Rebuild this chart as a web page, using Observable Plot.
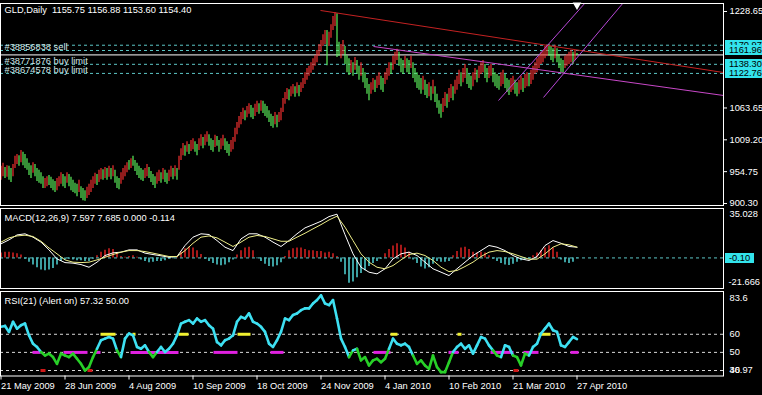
<!DOCTYPE html>
<html><head><meta charset="utf-8">
<script src="https://cdn.jsdelivr.net/npm/d3@7"></script>
<script src="https://cdn.jsdelivr.net/npm/@observablehq/plot@0.6"></script>
<style>
html,body{margin:0;padding:0;background:#000;}
#chart{position:relative;width:762px;height:395px;overflow:hidden;background:#000;font-family:"Liberation Sans",Arial,sans-serif;}
.pane{position:absolute;left:0;width:762px;}
.pane svg{display:block;}
.tag{position:absolute;height:10px;line-height:10px;font-size:9.3px;color:#000;background:#33e4ec;padding-left:4px;box-sizing:border-box;white-space:nowrap;overflow:hidden;}
</style></head><body><div id="chart"></div>
<script>
// ---------- data ----------
const symbolName = "GLD", timeframe = "Daily";
const quote = [1155.75, 1156.88, 1153.60, 1154.40]; // open high low close (last bar)
const highs = [
964,969,962,965,964,960,967,981,984,982,
991,988,984,977,969,965,970,967,960,957,
953,946,943,946,948,945,941,938,943,946,
953,950,946,953,950,945,940,935,933,940,
929,926,922,928,933,940,946,952,950,957,
960,958,962,960,964,960,965,957,946,943,
953,960,965,970,974,977,981,974,969,964,
960,957,960,967,962,955,950,946,953,957,
953,960,957,952,957,964,960,965,960,981,
994,1003,999,1006,1001,1008,1011,1006,1001,1011,
1018,1013,1018,1023,1018,1011,1008,1017,1015,1008,
1011,1017,1011,1006,1001,1008,1013,1029,1039,1049,
1056,1063,1059,1066,1071,1068,1063,1070,1075,1071,
1076,1075,1070,1066,1059,1053,1049,1056,1051,1056,
1063,1080,1090,1097,1095,1100,1104,1100,1107,1102,
1107,1114,1124,1131,1135,1141,1148,1153,1162,1172,
1179,1189,1196,1196,1193,1206,1220,1227,1225,1176,
1172,1179,1169,1153,1148,1145,1141,1150,1145,1135,
1141,1131,1124,1114,1104,1107,1114,1111,1118,1124,
1118,1114,1124,1131,1141,1141,1152,1159,1164,1159,
1148,1145,1152,1148,1145,1152,1141,1131,1124,1119,
1114,1118,1111,1104,1107,1100,1111,1100,1087,1076,
1070,1080,1090,1087,1097,1104,1100,1111,1118,1128,
1124,1131,1138,1131,1121,1118,1124,1131,1128,1135,
1141,1145,1138,1131,1135,1138,1131,1124,1121,1118,
1124,1128,1121,1114,1111,1114,1118,1111,1107,1111,
1118,1114,1121,1124,1121,1128,1135,1141,1148,1152,
1159,1162,1169,1171,1172,1169,1165,1171,1165,1155,
1148,1145,1152,1155,1159,1162,1159,1162,1156.88];
const lows = [
940,946,943,945,940,936,946,960,967,964,
970,965,960,957,948,943,952,946,938,935,
933,926,926,929,931,926,922,919,922,929,
933,929,926,935,929,922,919,917,912,919,
909,905,904,909,914,919,926,933,931,936,
941,940,943,940,945,941,946,935,926,924,
933,940,946,953,957,960,964,955,948,943,
940,938,943,946,943,936,931,926,933,938,
935,941,936,933,938,945,941,946,940,957,
974,982,981,988,984,989,992,988,982,991,
998,994,999,1005,998,991,988,996,998,988,
992,998,991,986,981,988,992,1005,1018,1029,
1035,1044,1042,1047,1053,1047,1044,1049,1056,1053,
1058,1054,1049,1046,1039,1032,1029,1035,1030,1039,
1042,1056,1070,1078,1076,1083,1087,1082,1088,1083,
1090,1097,1104,1111,1118,1123,1128,1135,1141,1152,
1159,1169,1172,1136,1169,1183,1196,1203,1150,1152,
1148,1155,1138,1124,1119,1123,1118,1128,1121,1111,
1118,1107,1097,1087,1076,1087,1094,1090,1097,1102,
1094,1090,1104,1111,1118,1121,1128,1138,1145,1135,
1124,1121,1131,1124,1121,1131,1114,1107,1097,1094,
1087,1094,1085,1080,1083,1076,1087,1073,1063,1053,
1046,1056,1066,1063,1073,1080,1076,1087,1094,1104,
1100,1107,1114,1104,1097,1094,1100,1111,1107,1114,
1121,1124,1114,1107,1114,1118,1107,1100,1097,1094,
1100,1104,1097,1090,1085,1090,1094,1087,1083,1087,
1094,1090,1097,1100,1100,1104,1111,1121,1124,1131,
1138,1141,1148,1152,1152,1145,1141,1148,1141,1131,
1124,1123,1131,1135,1138,1141,1138,1145,1153.60];
const barDirection =
"uududduuud"+"uddddduddd"+"dduudddduu"+"uddudddddu"+"ddduuuuudu"+
"ududududdd"+"uuuududddd"+"dduudddduu"+"dudduududu"+"uududuuddu"+
"uduudddudd"+"uuddduuuuu"+"uuduudduud"+"uddddddudu"+"uuuuduudud"+
"uuuuuuuuuu"+"uuuduuuudd"+"uudddududd"+"udddduuduu"+"dduuuduuud"+
"dduddudddd"+"duddududdd"+"duuduuduuu"+"duuddduudu"+"uudduudddd"+
"uuddduuddu"+"uduuduuuuu"+"uuuudddudd"+"dduuuudud";

const dateTicks = [0, 32, 64, 96, 128, 160, 192, 224, 256, 288];
const dateLabels = ["21 May 2009","28 Jun 2009","4 Aug 2009","10 Sep 2009","18 Oct 2009","24 Nov 2009","4 Jan 2010","10 Feb 2010","21 Mar 2010","27 Apr 2010"];
const priceTicks = [1228.65, 1063.65, 1009.20, 954.75, 900.30];
const priceDomain = [896.86, 1242.33];
const orderPrices = [1170.97, 1161.96, 1138.30, 1122.76];
const orderLabels = ["", "#38856838 sell", "#38771876 buy limit", "#38674578 buy limit"];
// trend lines: [bar index, price] start and end
const trendStart = [[159.75, 1230.4], [186.25, 1168.8], [248.75, 1076.4], [271.25, 1081.6]];
const trendEnd   = [[361.25, 1124.3], [361.25, 1085.0], [292.25, 1244.0], [311.25, 1244.0]];
const trendColor = ["#c42222", "#c848c8", "#b848d8", "#b848d8"];

// MACD (lines every 4 bars, histogram every 2 bars)
const macdRange = [-21.666, 35.028];
const macdLast = [7.597, 7.685, 0.000, -0.114];
const macdMain = [
10.0,12.8,16.3,17.1,14.7,11.2,5.7,-0.7,-3.3,-3.7,
-4.7,-6.6,-3.0,1.7,3.6,4.1,5.7,5.7,3.4,2.4,
1.5,0.5,1.0,8.8,14.7,17.1,16.6,12.3,7.6,5.2,
13.5,17.1,17.1,14.7,11.2,8.1,12.3,17.1,21.3,23.6,
26.0,29.3,31.0,16.5,2.9,-6.6,-10.1,-11.3,-7.7,-0.7,
2.9,4.1,1.7,-3.0,-7.7,-10.1,-12.5,-7.7,-3.0,1.7,
5.2,8.8,7.6,5.2,1.7,-0.7,-1.8,1.0,8.8,12.3,
10.4,8.1,7.6];
const macdSignal = [
11.2,14.2,15.6,16.1,15.2,11.8,7.1,2.9,-1.4,-3.0,
-3.3,-3.0,-1.4,0.5,2.4,4.1,5.2,5.2,4.5,3.4,
2.2,1.0,1.0,5.2,10.4,14.7,15.6,14.2,11.2,8.1,
11.2,14.7,15.9,15.2,13.5,11.8,11.8,14.7,17.5,20.6,
23.6,26.9,29.6,21.8,12.3,2.9,-3.0,-6.6,-7.7,-5.4,
-1.4,2.4,3.4,1.7,-1.8,-6.6,-9.7,-8.9,-6.1,-3.0,
1.0,4.1,5.2,4.5,2.9,1.0,-0.9,-0.9,2.9,7.6,
10.0,9.3,7.6];
const macdHist = [
3.5,4,4,3.5,3,2,
-1,-3,-5,-7,-8.5,-9,-8.5,-7.5,-5,-2.5,
-1.5,-1,-1.5,-2,-2,-2.5,-2.5,-1,
1.5,4,5.5,6.5,6,3.5,
1,0.5,1,1.5,0.5,-1.5,-2.5,-3.5,-3,-2.5,-2.5,-2,-1,-0.5,
1,4,6.5,7.5,7,5,2.5,
-1,-2.5,-4,-5,-5.5,-5,-3.5,-1.5,
2,5,7,7.5,5,
-0.5,-2.5,-4.5,-6,-6.5,-5.5,-3.5,
1,5,6.5,7,7,6,5,5,4.5,4.5,3.5,4,3,1,
-3,-12,-18,-17,-14,-11,-9,-6,-4,-2.5,-1,
3,6,8.5,10,9,7,4,
-1.5,-4,-6.5,-7.8,-7,-4.5,-2.5,-3,-3,-2.5,
1.5,4.5,7,7.5,6,4,3.5,4,3.5,1.5,
-1,-2.5,-4,-5,-5.4,-4.5,-3,-2,-1.5,-1,
1.5,3.5,5,7,8.7,7,4,
-1.5,-3.5,-4,-3,-0.5];

// RSI every 2 bars
const rsiRange = [36.97, 83.6];
const rsiLevels = [40, 50, 60];
const rsiTitleValues = [57.32, 50.00];
const rsi = [
64.1,64.6,61.3,66.9,63.1,65.0,65.9,59.4,54.8,53.0,
50.2,48.3,49.3,47.4,43.7,49.3,48.3,47.4,49.3,46.5,
43.7,40.0,41.9,47.4,52.0,56.7,57.6,58.5,57.6,51.1,
47.4,57.6,60.4,59.4,53.0,52.0,53.9,50.2,47.4,50.2,
53.0,50.2,52.0,54.8,59.4,65.9,66.9,67.8,65.9,68.7,
66.9,67.8,65.0,63.1,55.7,53.9,56.7,57.6,59.4,66.9,
69.6,68.7,71.5,66.9,65.9,64.1,61.3,54.8,53.0,56.7,
61.3,68.7,67.8,70.6,71.5,73.3,74.3,74.3,77.0,78.9,
81.5,77.0,76.1,78.9,68.7,57.6,53.0,47.4,51.1,52.0,
45.6,47.4,42.8,45.6,46.5,44.6,46.5,52.0,57.6,54.8,
53.9,54.8,53.0,48.3,43.7,45.6,42.8,40.9,48.3,41.9,
39.1,39.1,44.6,50.2,53.0,54.8,52.0,53.9,49.3,53.9,
58.5,57.6,53.9,51.1,48.3,47.4,53.9,53.0,48.3,47.4,
42.8,49.3,48.3,53.0,54.8,60.4,63.1,65.9,62.2,61.3,
53.9,53.0,55.7,58.5,57.32];
// alert marks: [start bar, end bar]
const alertMid  = [[16,20],[31.5,43.5],[47.5,50],[65,89],[106.5,118.5],[135,141.5],[186.5,195],[224,229],[245,256.5],[261.5,269],[285,289]];
const alertHigh = [[50,57.5],[66,67.5],[89,94],[118.5,125],[195,198.5],[228.5,230.5],[269,275]];
const alertLow  = [[20,22.5],[43.5,46],[256.5,259]];

// ---------- build ----------
const FONT = '"Liberation Sans", Arial, sans-serif';
const FS = "9.3px";
const xOpts = {domain: [0, 288], range: [0.5, 576.5], axis: null};
const baseStyle = {background: "transparent", color: "#fff", fontFamily: FONT, fontSize: FS, overflow: "visible"};
const chart = document.getElementById("chart");
function pane(top) { const d = document.createElement("div"); d.className = "pane"; d.style.top = top + "px"; chart.appendChild(d); return d; }
function tag(text, top, left, width) { const t = document.createElement("div"); t.className = "tag"; t.textContent = text; t.style.top = (top - 5) + "px"; t.style.left = left + "px"; t.style.width = width + "px"; chart.appendChild(t); }

const bars = highs.map((h, i) => ({i, high: h, low: lows[i], up: barDirection[i] === "u"}));
const trends = trendStart.map((s, k) => ({x1: s[0], y1: s[1], x2: trendEnd[k][0], y2: trendEnd[k][1], c: trendColor[k]}));
const orders = orderPrices.map((p, k) => ({p, label: orderLabels[k]}));
const lastIndex = highs.length - 1;

const mainPlot = Plot.plot({
  width: 762, height: 206, marginTop: 3, marginBottom: 1, marginLeft: 0, marginRight: 39,
  style: baseStyle,
  x: xOpts,
  y: {domain: priceDomain, axis: null},
  marks: [
    Plot.ruleY(orders, {y: "p", stroke: "#5cc6c6", strokeDasharray: "3,3"}),
    Plot.ruleY([quote[3]], {stroke: "#ffffff"}),
    Plot.ruleX(bars, {x: "i", y1: "low", y2: "high", stroke: d => d.up ? "#f03030" : "#5cf05c", strokeWidth: 1.2}),
    Plot.link(trends, {x1: "x1", y1: "y1", x2: "x2", y2: "y2", stroke: "c", strokeWidth: 1, clip: true}),
    Plot.text(orders.filter(d => d.label), {y: "p", text: "label", frameAnchor: "left", dx: 4, dy: -3, textAnchor: "start", lineAnchor: "middle", fill: "#cfe6e6"}),
    Plot.frame({stroke: "#ffffff"}),
    Plot.axisY({anchor: "right", ticks: priceTicks, tickFormat: d => d.toFixed(2), tickSize: 3, tickPadding: 3}),
    Plot.text([`${symbolName},${timeframe}\u00a0\u00a0${quote.map(v => v.toFixed(2)).join(" ")}`], {frameAnchor: "top-left", dx: 4, dy: 6.3, textAnchor: "start", lineAnchor: "middle", fill: "#ffffff"}),
    Plot.dot([lastIndex], {x: d => d, frameAnchor: "top", dy: 1.5, symbol: "triangle", rotate: 180, r: 3.2, fill: "#ffffff", stroke: "none"})
  ]
});
pane(0).appendChild(mainPlot);
const yMain = mainPlot.scale("y");
orders.forEach(o => tag(o.p.toFixed(2), yMain.apply(o.p), 725, 37));

const macdLines = macdMain.map((v, k) => ({i: 4 * k, v}));
const sigLines = macdSignal.map((v, k) => ({i: 4 * k, v}));
const histRows = macdHist.map((v, k) => ({i: 2 * k, v}));
const macdPlot = Plot.plot({
  width: 762, height: 84, marginTop: 2, marginBottom: 2, marginLeft: 0, marginRight: 39,
  style: baseStyle,
  x: xOpts,
  y: {domain: macdRange, axis: null},
  marks: [
    Plot.ruleX(histRows, {x: "i", y1: 0, y2: "v", stroke: d => d.v >= 0 ? "#d02020" : "#4cc8ca", strokeWidth: 1.6}),
    Plot.ruleY([0], {stroke: "#5cc6c6", strokeDasharray: "3,3"}),
    Plot.line(macdLines, {x: "i", y: "v", stroke: "#ffffff", strokeWidth: 1}),
    Plot.line(sigLines, {x: "i", y: "v", stroke: "#eeee88", strokeWidth: 1}),
    Plot.frame({stroke: "#ffffff"}),
    Plot.text([`MACD(12,26,9) ${macdLast.map(v => v.toFixed(3)).join(" ")}`], {frameAnchor: "top-left", dx: 4, dy: 9.3, textAnchor: "start", lineAnchor: "middle", fill: "#ffffff"}),
    Plot.text([macdRange[1].toFixed(3)], {frameAnchor: "top-right", dx: 6, dy: 6, textAnchor: "start", lineAnchor: "middle", fill: "#ffffff"}),
    Plot.text([macdRange[0].toFixed(3)], {frameAnchor: "bottom-right", dx: 5, dy: -6.3, textAnchor: "start", lineAnchor: "middle", fill: "#ffffff"})
  ]
});
pane(206).appendChild(macdPlot);
tag("-0.10", 206 + macdPlot.scale("y").apply(-0.10), 725, 29);

const rsiRows = rsi.map((v, k) => ({i: 2 * k, v}));
const rsiSegs = d3.pairs(rsiRows).map(([a, b]) => ({x1: a.i, y1: a.v, x2: b.i, y2: b.v, low: (a.v + b.v) / 2 < 50}));
const spans = [
  ...alertMid.map(s => ({a: s[0], b: s[1], level: 50, c: "#e020e0"})),
  ...alertHigh.map(s => ({a: s[0], b: s[1], level: 60, c: "#f0f030"})),
  ...alertLow.map(s => ({a: s[0], b: s[1], level: 40, c: "#d01818"}))
];
const rsiPlot = Plot.plot({
  width: 762, height: 105, marginTop: 1, marginBottom: 19.5, marginLeft: 0, marginRight: 39,
  style: baseStyle,
  x: xOpts,
  y: {domain: rsiRange, axis: null},
  marks: [
    Plot.ruleY(rsiLevels, {stroke: "#d8d8d8", strokeDasharray: "3,3"}),
    Plot.ruleY(spans, {y: "level", x1: "a", x2: "b", stroke: "c", strokeWidth: 3}),
    Plot.link(rsiSegs, {x1: "x1", y1: "y1", x2: "x2", y2: "y2", stroke: d => d.low ? "#28d028" : "#3ee0f2", strokeWidth: 2.6, strokeLinecap: "round"}),
    Plot.frame({stroke: "#ffffff"}),
    Plot.axisX({anchor: "bottom", ticks: dateTicks, tickFormat: d => dateLabels[dateTicks.indexOf(d)], tickSize: 4, tickPadding: 2, textAnchor: "start", dx: 0}),
    Plot.text([`RSI(21) (Alert on) ${rsiTitleValues.map(v => v.toFixed(2)).join(" ")}`], {frameAnchor: "top-left", dx: 4, dy: 9.7, textAnchor: "start", lineAnchor: "middle", fill: "#ffffff"}),
    Plot.text(rsiLevels, {y: d => d, text: d => String(d), frameAnchor: "right", dx: 6, textAnchor: "start", lineAnchor: "middle", fill: "#ffffff"}),
    Plot.text([String(rsiRange[1])], {frameAnchor: "top-right", dx: 6, dy: 6.7, textAnchor: "start", lineAnchor: "middle", fill: "#ffffff"}),
    Plot.text([rsiRange[0].toFixed(2)], {frameAnchor: "bottom-right", dx: 6, dy: -5.5, textAnchor: "start", lineAnchor: "middle", fill: "#ffffff"})
  ]
});
pane(290).appendChild(rsiPlot);
</script>
</body></html>
